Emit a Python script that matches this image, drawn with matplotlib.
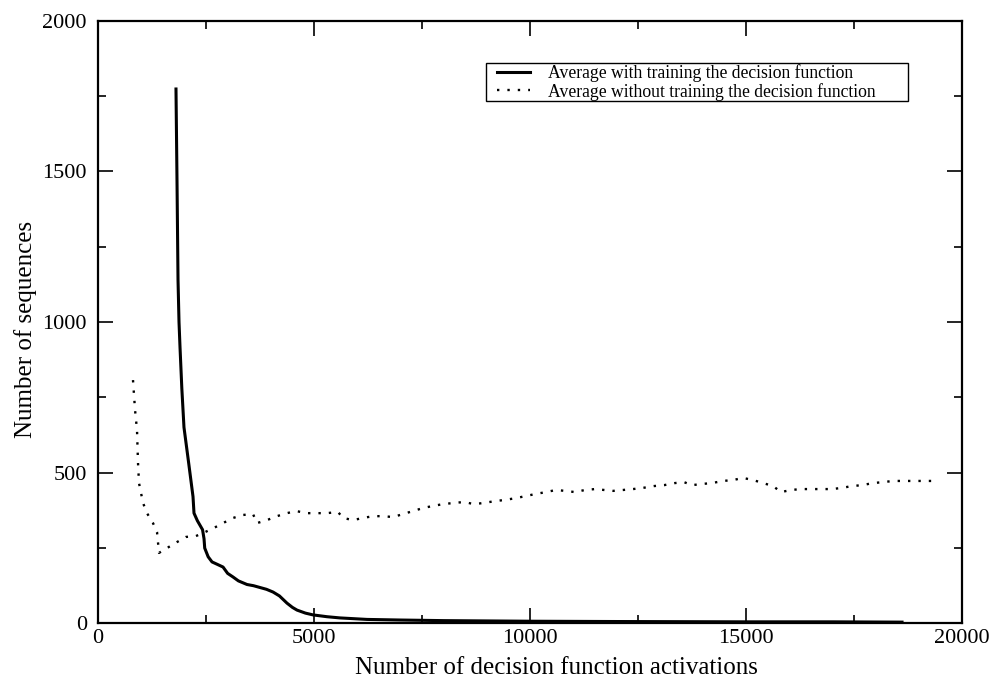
import matplotlib.pyplot as plt
from matplotlib.patches import Rectangle
from matplotlib.ticker import MultipleLocator

# Data
with_x = [1805, 1830, 1852, 1875, 1898, 1940, 1990, 2100, 2199, 2222, 2300, 2420, 2454, 2470,
          2550, 2639, 2760, 2894, 3000, 3125, 3250, 3449, 3600, 3750, 3900, 4051, 4200,
          4375, 4500, 4606, 4800, 4977, 5300, 5600, 6227, 7000, 8000, 10000, 12000,
          15000, 17000, 18611]
with_y = [1774, 1450, 1140, 1000, 917, 780, 650, 530, 420, 365, 340, 310, 280, 249,
          220, 203, 195, 186, 165, 153, 140, 128, 124, 118, 112, 103, 90,
          66, 52, 43, 33, 27, 21, 17, 12, 10, 8, 6, 5,
          4, 4, 3]

without_x = [810, 857, 903, 926, 949, 1042, 1134, 1273, 1366, 1412, 1597, 1829, 2037, 2268,
             2477, 2685, 2894, 3125, 3356, 3588, 3680, 3912, 4143, 4375, 4583, 4838,
             5300, 5555, 5671, 5903, 6134, 6366, 6597, 6829, 7060, 7292, 7523, 7755,
             7986, 8241, 8472, 8704, 8935, 9190, 9421, 9676, 9907, 10139, 10370, 10602,
             10810, 11042, 11273, 11505, 11713, 11921, 12153, 12384, 12616, 12870, 13102,
             13356, 13565, 13750, 13981, 14213, 14468, 14699, 14931, 15162, 15394, 15625,
             15810, 16042, 16273, 16528, 16991, 17222, 17454, 17685, 17940, 18171, 18403,
             18634, 19375]
without_y = [807, 708, 641, 532, 465, 399, 365, 332, 302, 233, 249, 269, 286, 289,
             302, 316, 332, 349, 359, 362, 332, 342, 355, 365, 372, 365,
             365, 369, 349, 342, 349, 355, 355, 352, 362, 372, 382, 389,
             395, 399, 402, 395, 399, 405, 409, 415, 422, 429, 435, 442,
             439, 435, 442, 445, 442, 439, 442, 445, 449, 455, 458,
             465, 468, 458, 462, 465, 472, 475, 482, 475, 465, 455,
             435, 442, 445, 445, 445, 449, 455, 458, 465, 468, 472,
             472, 472]

plt.rcParams['font.family'] = ['Liberation Serif', 'DejaVu Serif']

fig = plt.figure(figsize=(9.96, 6.83), dpi=100)
ax = fig.add_axes([0.0984, 0.0878, 0.8675, 0.8815])

ax.plot(with_x, with_y, color='black', lw=2.2, solid_joinstyle='round',
        label='Average with training the decision function')
ax.plot(without_x, without_y, color='black', lw=1.7, linestyle=(0, (1, 3.4)),
        label='Average without training the decision function')

ax.set_xlim(0, 20000)
ax.set_ylim(0, 2000)
ax.xaxis.set_major_locator(MultipleLocator(5000))
ax.xaxis.set_minor_locator(MultipleLocator(2500))
ax.yaxis.set_major_locator(MultipleLocator(500))
ax.yaxis.set_minor_locator(MultipleLocator(250))
ax.tick_params(which='both', direction='in', top=True, right=True, labelsize=16, width=1.2)
ax.tick_params(which='major', length=11)
ax.tick_params(which='minor', length=5.5)
ax.tick_params(axis='y', pad=8)
ax.tick_params(axis='x', pad=4)
for s in ax.spines.values():
    s.set_linewidth(1.6)

ax.set_xlabel('Number of decision function activations', fontsize=18)
ax.xaxis.set_label_coords(0.530, -0.056, transform=ax.transAxes)
ax.xaxis.label.set_va('top')
ax.set_ylabel('Number of sequences', fontsize=18, labelpad=4)
ax.yaxis.label.set_y(0.487)

# legend: plain entries plus a separate box drawn around them
leg = ax.legend(loc='upper left', bbox_to_anchor=(0.4618, 0.9286), fontsize=12.7,
                frameon=False, handlelength=1.85, handletextpad=1.05,
                borderpad=0, labelspacing=0.05, borderaxespad=0)
ax.add_patch(Rectangle((0.449, 0.867), 0.4885, 0.063, transform=ax.transAxes,
                       fill=False, edgecolor='black', lw=1.0, zorder=5))

fig.savefig('out.png', dpi=100)
